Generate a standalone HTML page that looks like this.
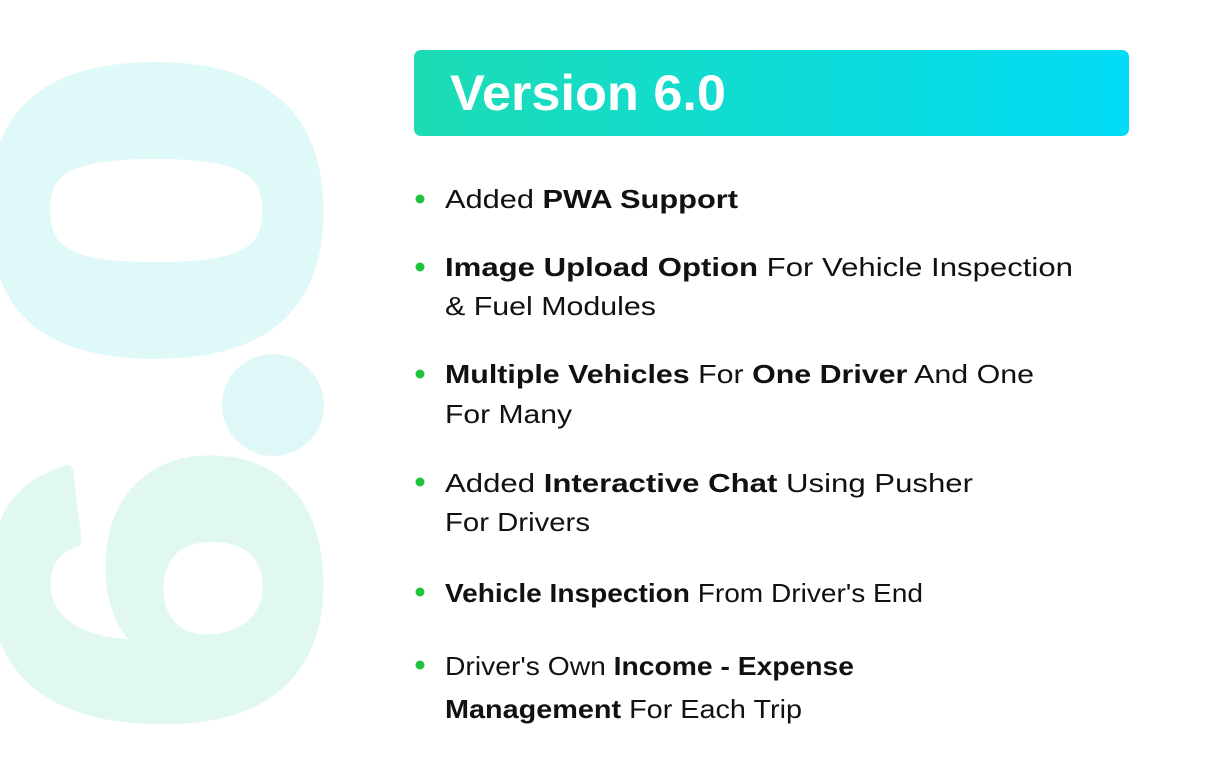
<!DOCTYPE html>
<html><head><meta charset="utf-8"><style>
html,body{margin:0;padding:0;background:#fff;}
svg{display:block;}
text{font-family:"Liberation Sans",sans-serif;}
</style></head><body>
<svg width="1232" height="781" viewBox="0 0 1232 781" xmlns="http://www.w3.org/2000/svg">
<defs>
<linearGradient id="hg" x1="0" y1="0" x2="1" y2="0">
<stop offset="0" stop-color="#1ddcb4"/><stop offset="1" stop-color="#02dcf6"/>
</linearGradient>
</defs>
<rect x="0" y="0" width="1232" height="781" fill="#fff"/>
<g font-size="455" font-weight="bold" text-anchor="middle" stroke-width="12" stroke-linejoin="round">
<text transform="translate(313,210) rotate(-90) scale(1.3,1)" fill="#dff8f8" stroke="#dff8f8">0</text>
<text transform="translate(313,590) rotate(-90) scale(1.16,1)" fill="#e1f8f2" stroke="#e1f8f2">6</text>
</g>
<circle cx="273" cy="405" r="51" fill="#dff8f7"/>
<text transform="translate(300,405) rotate(-90)" font-size="200" font-weight="bold" text-anchor="middle" fill="#dff8f7">.</text>
<rect x="414" y="50" width="715" height="86" rx="7" fill="url(#hg)"/>
<text x="450" y="110" font-size="50" font-weight="bold" fill="#fff" textLength="276" lengthAdjust="spacingAndGlyphs">Version 6.0</text>
<g fill="#1ec43c">
<circle cx="420" cy="199" r="4.5"/><circle cx="420" cy="267" r="4.5"/><circle cx="420" cy="374" r="4.5"/>
<circle cx="420" cy="482" r="4.5"/><circle cx="420" cy="592" r="4.5"/><circle cx="420" cy="665" r="4.5"/>
</g>
<g font-size="26" fill="#111">
<text x="445" y="208" textLength="293" lengthAdjust="spacingAndGlyphs">Added <tspan font-weight="bold">PWA Support</tspan></text>
<text x="445" y="276" textLength="628" lengthAdjust="spacingAndGlyphs"><tspan font-weight="bold">Image Upload Option</tspan> For Vehicle Inspection</text>
<text x="445" y="315" textLength="211" lengthAdjust="spacingAndGlyphs">&amp; Fuel Modules</text>
<text x="445" y="383" textLength="589" lengthAdjust="spacingAndGlyphs"><tspan font-weight="bold">Multiple Vehicles</tspan> For <tspan font-weight="bold">One Driver</tspan> And One</text>
<text x="445" y="423" textLength="127" lengthAdjust="spacingAndGlyphs">For Many</text>
<text x="445" y="492" textLength="528" lengthAdjust="spacingAndGlyphs">Added <tspan font-weight="bold">Interactive Chat</tspan> Using Pusher</text>
<text x="445" y="531" textLength="145" lengthAdjust="spacingAndGlyphs">For Drivers</text>
<text x="445" y="602" textLength="478" lengthAdjust="spacingAndGlyphs"><tspan font-weight="bold">Vehicle Inspection</tspan> From Driver's End</text>
<text x="445" y="675" textLength="409" lengthAdjust="spacingAndGlyphs">Driver's Own <tspan font-weight="bold">Income - Expense</tspan></text>
<text x="445" y="718" textLength="357" lengthAdjust="spacingAndGlyphs"><tspan font-weight="bold">Management</tspan> For Each Trip</text>
</g>
</svg>
</body></html>
